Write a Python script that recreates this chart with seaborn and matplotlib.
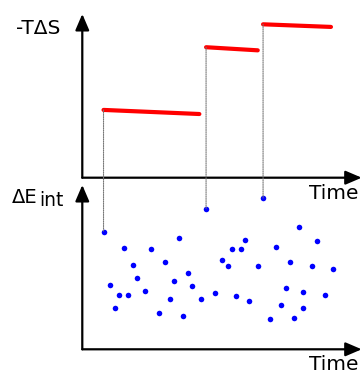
import numpy as np
import pandas as pd
import matplotlib
matplotlib.use("Agg")
import matplotlib.pyplot as plt
from matplotlib.patches import ConnectionPatch
import seaborn as sns

# Zeitpunkte der Sprünge und Entropie-Plateaus (Start/Ende je Segment)
jump_time = [7.6, 44.3, 64.7]
plateau_end = [41.9, 62.8, 89.0]
entropy_start = [41.4, 79.7, 93.7]
entropy_end = [38.9, 77.8, 92.1]

# Wechselwirkungsenergie an den Sprüngen
jump_energy = [71.6, 85.4, 92.1]

# restliche Messpunkte der Wechselwirkungsenergie
time = [9.9, 11.8, 13.3, 14.9, 16.5, 18.0, 19.5, 22.6, 24.6, 27.3, 29.5,
        31.5, 32.9, 34.6, 36.0, 37.7, 39.3, 42.4, 47.6, 50.0, 52.0, 53.6,
        55.1, 56.7, 58.2, 59.7, 62.8, 67.1, 69.3, 71.2, 72.8, 74.3, 75.9,
        77.4, 79.0, 79.0, 82.1, 84.1, 86.8, 89.7]
energy = [39.3, 24.9, 32.8, 61.7, 32.8, 51.3, 43.4, 35.5, 61.0, 22.3, 53.3,
          30.8, 41.4, 67.7, 20.3, 46.6, 38.7, 30.8, 34.1, 54.6, 50.7, 61.0,
          32.2, 61.0, 66.3, 29.6, 50.7, 18.2, 62.5, 27.0, 37.5, 53.3, 19.1,
          74.2, 34.9, 24.9, 50.7, 65.7, 32.8, 48.7]

sns.set_style("white")
plt.rcParams["font.family"] = ["DejaVu Sans"]

fig = plt.figure(figsize=(3.63, 3.76), dpi=100)
ax_s = fig.add_axes([0.2267, 0.5274, 0.7697, 0.4354])
ax_e = fig.add_axes([0.2267, 0.0710, 0.7697, 0.4370])

# Segmente als langes DataFrame für seaborn
seg = pd.DataFrame({
    "time": jump_time + plateau_end,
    "entropy": entropy_start + entropy_end,
    "seg": list(range(3)) + list(range(3)),
})
sns.lineplot(data=seg, x="time", y="entropy", units="seg", estimator=None,
             color="#ff0000", linewidth=3, ax=ax_s, zorder=3)

pts = pd.DataFrame({"time": time + jump_time, "energy": energy + jump_energy})
sns.scatterplot(data=pts, x="time", y="energy", color="#0000ff", s=16,
                linewidth=0, ax=ax_e, zorder=3)

for ax in (ax_s, ax_e):
    ax.set_xlim(0, 100)
    ax.set_ylim(0, 100)
    ax.set_xticks([])
    ax.set_yticks([])
    ax.set_xlabel("")
    ax.set_ylabel("")
    for sp in ax.spines.values():
        sp.set_visible(False)
    ax.patch.set_alpha(0)
    arrow = dict(arrowstyle="-|>,head_length=0.7,head_width=0.3",
                 color="black", lw=1.6,
                 shrinkA=0, shrinkB=0, mutation_scale=14)
    ax.annotate("", xy=(0, 1), xytext=(0, 0), xycoords="axes fraction",
                arrowprops=arrow, annotation_clip=False)
    ax.annotate("", xy=(1, 0), xytext=(0, 0), xycoords="axes fraction",
                arrowprops=arrow, annotation_clip=False)

# gepunktete Verbindungen von Plateau-Beginn zu Energiepunkt
for t, s0, e0 in zip(jump_time, entropy_start, jump_energy):
    con = ConnectionPatch(xyA=(t, s0), coordsA=ax_s.transData,
                          xyB=(t, e0), coordsB=ax_e.transData,
                          color="#777777", lw=0.8, linestyle=(0, (1, 1)),
                          zorder=1)
    fig.add_artist(con)

fs = 14.5
fig.text(0.165, 0.9088, "-TΔS", ha="right", va="baseline", fontsize=fs,
         color="black")
# ΔE mit tiefgestelltem "int", fast gleich groß wie im Original
fig.text(0.032, 0.461, "ΔE", ha="left", va="baseline", fontsize=14,
         color="black")
fig.text(0.107, 0.452, "int", ha="left", va="baseline", fontsize=13.5,
         color="black")
fig.text(0.987, 0.470, "Time", ha="right", va="baseline", fontsize=fs,
         color="black")
fig.text(0.987, 0.016, "Time", ha="right", va="baseline", fontsize=fs,
         color="black")

fig.savefig("out.png", dpi=100)
